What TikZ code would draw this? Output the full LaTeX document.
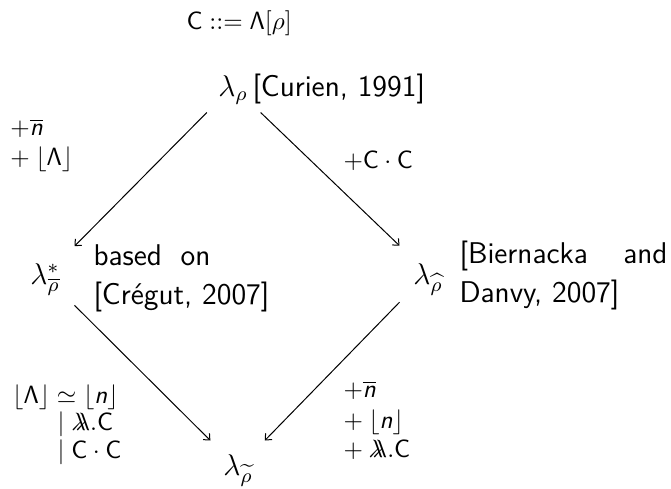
\documentclass[tikz,border=0pt]{standalone}
\usetikzlibrary{arrows.meta}
\newcommand\bigsz{\fontsize{12}{15.6}\selectfont\sffamily}
\newcommand\labsz{\fontsize{10}{11.6}\selectfont\sffamily}
\newcommand\dlam{\lambda\mkern-7.5mu\lambda}
\newcommand\itn{\mbox{\sffamily\itshape n}}
\begin{document}
\begin{tikzpicture}[x=0.4pt,y=-0.4pt,
  lam/.style={inner sep=0pt, font=\bigsz},
  cite/.style={anchor=base west, inner sep=0pt, font=\bigsz},
  lab/.style={anchor=base west, inner sep=0pt, font=\labsz},
  arr/.style={-{Straight Barb[length=2pt,width=3.6pt]}, line width=0.4pt}]
\useasboundingbox (0,0) rectangle (671,488);
% lambda nodes
\node[lam, minimum width=28pt, minimum height=20.8pt, text height=8.4pt, text depth=0.4pt] (top) at (233,86) {$\lambda_{\rho}$};
\node[lam, minimum width=23.2pt, minimum height=25.6pt, text height=8.8pt, text depth=2.4pt] (left) at (45,276) {$\lambda^{*}_{\overline{\rho}}$};
\node[lam, minimum width=22.4pt, minimum height=25.6pt, text height=9.6pt, text depth=0.8pt] (right) at (428,273) {$\lambda_{\widehat{\rho}}$};
\node[lam, minimum width=25.6pt, minimum height=21.6pt, text height=8.4pt, text depth=2.8pt] (bot) at (238,468) {$\lambda_{\widetilde{\rho}}$};
% citations
\node[cite] (curien) at (252,96) {[Curien, 1991]};
\node[cite] (cregut) at (93,265) {\begin{tabular}[t]{@{}l@{}}\hbox to 46.8pt{based\hfill on}\\\relax [Crégut, 2007]\end{tabular}};
\node[cite] (biern) at (459,263) {\begin{tabular}[t]{@{}l@{}}\hbox to 83.2pt{[Biernacka\hfill and}\\\relax Danvy, 2007]\end{tabular}};
% labels
\node[lab] (grammar) at (186,29) {$\mathsf{C} ::= \mathsf{\Lambda}[\rho]$};
\node[lab] (tl) at (10,135) {\begin{tabular}[t]{@{}l@{}}$+\overline{\itn}$\\[0.4pt]$+\mskip\medmuskip\lfloor\mathsf{\Lambda}\rfloor$\end{tabular}};
\node[lab] (tr) at (343,168) {$+\mathsf{C}\cdot\mathsf{C}$};
\node[lab] (bl) at (12,403) {\begin{tabular}[t]{@{}l@{}}$\lfloor\mathsf{\Lambda}\rfloor\simeq\lfloor\itn\rfloor$\\[-0.8pt]\hspace{18pt}$|\;\dlam.\mathsf{C}$\\[-0.4pt]\hspace{18pt}$|\;\mathsf{C}\cdot\mathsf{C}$\end{tabular}};
\node[lab] (br) at (343,397) {\begin{tabular}[t]{@{}l@{}}$+\overline{\itn}$\\[0.8pt]$+\mskip\medmuskip\lfloor\itn\rfloor$\\$+\mskip\medmuskip\dlam.\mathsf{C}$\end{tabular}};
% arrows
\draw[arr] (top) -- (left);
\draw[arr] (top) -- (right);
\draw[arr] (left) -- (bot);
\draw[arr] (right) -- (bot);
\end{tikzpicture}
\end{document}
